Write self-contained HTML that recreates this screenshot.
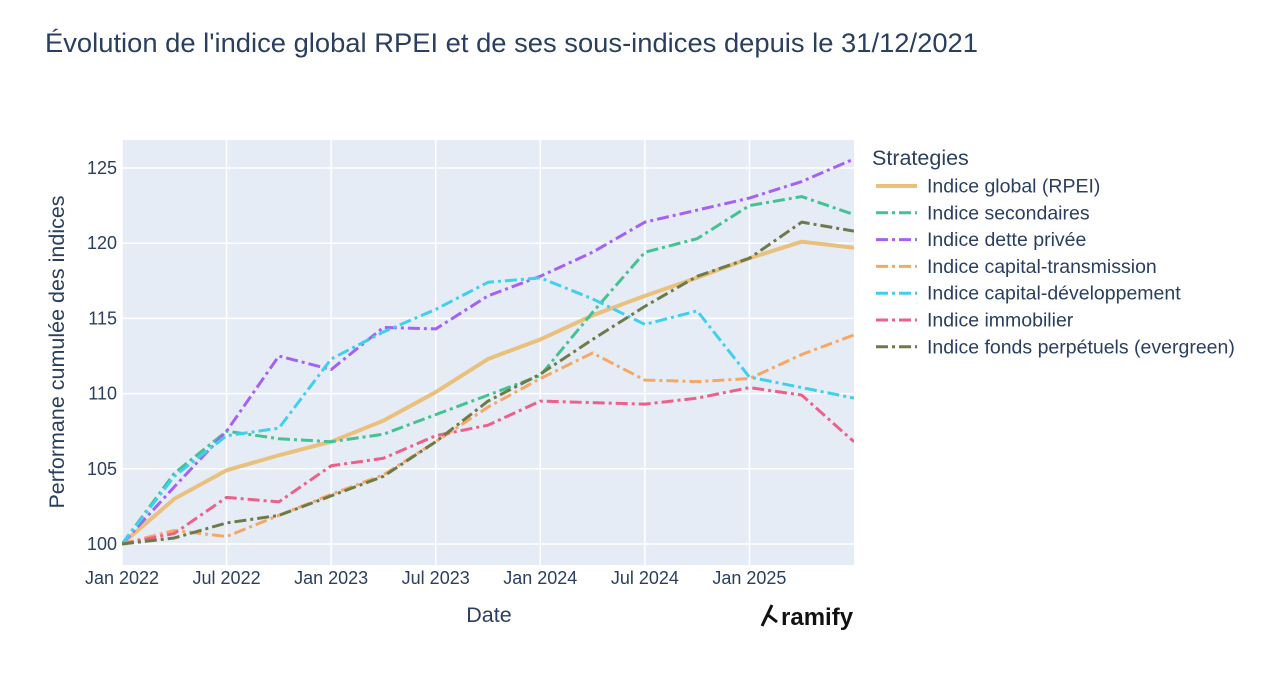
<!DOCTYPE html>
<html><head><meta charset="utf-8"><style>
body{margin:0;background:#fff;font-family:"Liberation Sans",sans-serif;}
svg text{font-family:"Liberation Sans",sans-serif;fill:#2a3f5f;}
</style></head><body>
<svg id="c" width="1282" height="680"></svg>
<script>
const dates=["Jan22","Apr22","Jul22","Oct22","Jan23","Apr23","Jul23","Oct23","Jan24","Apr24","Jul24","Oct24","Jan25","Apr25","Jul25"];
const names=["Indice global (RPEI)","Indice secondaires","Indice dette privée","Indice capital-transmission","Indice capital-développement","Indice immobilier","Indice fonds perpétuels (evergreen)"];
const sGlobal=[100,103,104.9,105.9,106.8,108.2,110.1,112.3,113.6,115.2,116.5,117.7,119.0,120.1,119.7];
const sSec=[100,104.7,107.5,107.0,106.8,107.3,108.6,109.9,111.2,115.4,119.4,120.3,122.5,123.1,121.9];
const sDette=[100,103.8,107.5,112.5,111.6,114.4,114.3,116.5,117.8,119.4,121.4,122.2,123.0,124.1,125.6];
const sTrans=[100,100.9,100.5,101.9,103.3,104.6,106.8,109.1,111.0,112.7,110.9,110.8,111.0,112.6,113.9];
const sDev=[100,104.5,107.2,107.7,112.3,114.1,115.6,117.4,117.7,116.3,114.6,115.5,111.1,110.4,109.7];
const sImmo=[100,100.7,103.1,102.8,105.2,105.7,107.2,107.9,109.5,109.4,109.3,109.7,110.4,109.9,106.8];
const sEver=[100,100.4,101.4,101.9,103.2,104.5,106.8,109.5,111.3,113.6,115.8,117.8,119.0,121.4,120.8];
const yTicks=[100,105,110,115,120,125];
const xTickLabels=["Jan 2022","Jul 2022","Jan 2023","Jul 2023","Jan 2024","Jul 2024","Jan 2025"];
const xTickIdx=[0,2,4,6,8,10,12];

const NS="http://www.w3.org/2000/svg";
const svg=document.getElementById('c');
const L=122,R=854,T=140,B=565;
const X=i=>L+(R-L)*i/(dates.length-1);
const Y=v=>544-(v-100)*15.04;
function mk(t,a,p){const e=document.createElementNS(NS,t);for(const k in a)e.setAttribute(k,a[k]);(p||svg).appendChild(e);return e;}
let e;
e=mk('text',{x:45,y:52,'font-size':26.5,textLength:933,lengthAdjust:'spacingAndGlyphs'});e.textContent="Évolution de l'indice global RPEI et de ses sous-indices depuis le 31/12/2021";


e=mk('rect',{x:L,y:T,width:R-L,height:B-T,fill:'#e5ecf6'});


yTicks.forEach(v=>{
 e=mk('line',{x1:L,x2:R,y1:Y(v),y2:Y(v),stroke:'#fff','stroke-width':1.5});
 
 
 e=mk('text',{x:117,y:Y(v)+6,'font-size':18,'text-anchor':'end'});e.textContent=v;
 
 
});
xTickIdx.forEach((i,k)=>{
 e=mk('line',{x1:X(i),x2:X(i),y1:T,y2:B,stroke:'#fff','stroke-width':1.5});
 
 
 e=mk('text',{x:X(i),y:584,'font-size':18,'text-anchor':'middle'});e.textContent=xTickLabels[k];
 
 
});
e=mk('text',{x:489,y:622,'font-size':21.5,'text-anchor':'middle'});e.textContent="Date";


e=mk('text',{x:0,y:0,'font-size':21.5,'text-anchor':'middle',transform:'translate(64,352) rotate(-90)'});e.textContent="Performane cumulée des indices";



const series=[sGlobal,sSec,sDette,sTrans,sDev,sImmo,sEver];
const colors=['#e9c07c','#44c291','#a560f6','#f6a764','#41cfee','#ec6189','#6d7b48'];
const dash=['none','12,4,3,4','12,4,3,4','12,4,3,4','12,4,3,4','12,4,3,4','12,4,3,4'];
const widths=[4,3,3,3,3,3,3];
const g=mk('g',{'clip-path':'url(#cp)'});
const cp=mk('clipPath',{id:'cp'});mk('rect',{x:L,y:T,width:R-L,height:B-T},cp);
series.forEach((s,k)=>{
 e=mk('polyline',{points:s.map((v,i)=>X(i)+','+Y(v)).join(' '),fill:'none',stroke:colors[k],'stroke-width':widths[k],'stroke-dasharray':dash[k],'stroke-linejoin':'round'},g);
 
 
});
e=mk('text',{x:872,y:165,'font-size':21.5});e.textContent="Strategies";


names.forEach((n,k)=>{
 const y=186+k*26.8;
 e=mk('line',{x1:876,x2:917,y1:y,y2:y,stroke:colors[k],'stroke-width':widths[k],'stroke-dasharray':dash[k]});
 
 
 e=mk('text',{x:927,y:y+6.5,'font-size':19.5});e.textContent=n;
 
 
});
e=mk('text',{x:781,y:625,'font-size':24,'font-weight':'bold',style:'fill:#111'});e.textContent="ramify";


e=mk('path',{d:'M762 626 L772 605 M768 615 L777 622',stroke:'#111','stroke-width':3,fill:'none'});


</script>
</body></html>
